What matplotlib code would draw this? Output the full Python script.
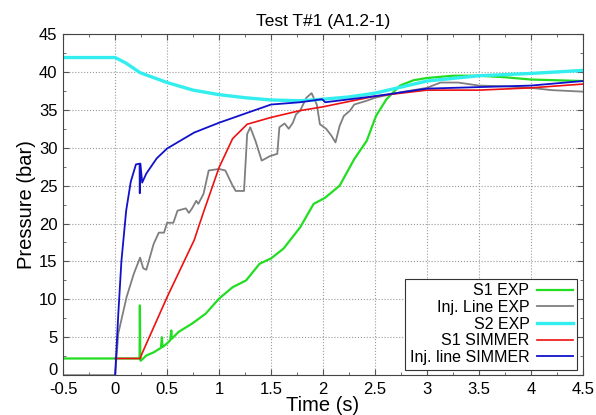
import matplotlib
matplotlib.use('Agg')
import matplotlib.pyplot as plt
from matplotlib.ticker import MultipleLocator

plt.rcParams['font.family'] = ['Liberation Sans', 'DejaVu Sans']

# S1 EXP (green)
s1_exp_t = [-0.5, 0.0, 0.235, 0.238, 0.242, 0.245, 0.27, 0.3, 0.37, 0.44, 0.45, 0.455,
            0.5, 0.53, 0.54, 0.545, 0.61, 0.74, 0.87, 1.0, 1.13, 1.26, 1.39, 1.5, 1.62,
            1.78, 1.91, 2.02, 2.16, 2.3, 2.42, 2.51, 2.61, 2.74, 2.87, 3.0, 3.25, 3.5,
            3.75, 4.0, 4.25, 4.5]
s1_exp_p = [2.2, 2.2, 2.2, 9.2, 2.2, 1.9, 2.2, 2.6, 3.0, 3.6, 5.0, 3.7,
            4.2, 4.6, 5.9, 4.8, 5.7, 6.8, 8.1, 10.1, 11.6, 12.5, 14.7, 15.4, 16.7,
            19.5, 22.6, 23.4, 25.0, 28.5, 30.9, 34.2, 36.4, 38.2, 38.9, 39.2, 39.5, 39.5,
            39.3, 39.0, 38.9, 38.8]

# Inj. Line EXP (grey)
inj_exp_t = [-0.5, 0.0, 0.03, 0.11, 0.18, 0.24, 0.27, 0.3, 0.37, 0.42, 0.47, 0.5, 0.56,
             0.6, 0.68, 0.71, 0.74, 0.78, 0.8, 0.85, 0.9, 1.0, 1.06, 1.13, 1.16, 1.24,
             1.27, 1.3, 1.35, 1.41, 1.49, 1.56, 1.58, 1.63, 1.67, 1.71, 1.74, 1.78, 1.84,
             1.89, 1.94, 1.97, 2.03, 2.08, 2.12, 2.16, 2.2, 2.26, 2.3, 2.42, 2.5, 2.74,
             3.0, 3.13, 3.3, 3.5, 3.75, 4.0, 4.2, 4.5]
inj_exp_p = [0.0, 0.0, 5.5, 10.3, 13.4, 15.5, 14.1, 13.9, 17.3, 18.8, 18.8, 20.1, 20.1,
             21.7, 22.0, 21.4, 22.0, 23.0, 22.6, 23.9, 27.0, 27.2, 27.0, 25.0, 24.3, 24.3,
             31.8, 32.7, 30.9, 28.3, 28.9, 29.2, 32.7, 33.2, 32.5, 33.3, 34.4, 34.9, 36.6,
             37.2, 35.7, 33.1, 32.5, 31.6, 30.7, 32.9, 34.2, 34.9, 35.7, 36.2, 36.6, 37.3,
             37.9, 38.6, 38.6, 38.2, 38.1, 37.9, 37.6, 37.4]

# S2 EXP (cyan)
s2_exp_t = [-0.5, 0.0, 0.1, 0.24, 0.5, 0.75, 1.0, 1.25, 1.5, 1.78, 2.0, 2.25, 2.5,
            2.75, 3.0, 3.5, 4.0, 4.5]
s2_exp_p = [41.9, 41.9, 41.2, 39.9, 38.6, 37.6, 37.0, 36.6, 36.3, 36.2, 36.4, 36.7, 37.2,
            38.0, 38.8, 39.5, 39.8, 40.2]

# S1 SIMMER (red)
s1_sim_t = [0.0, 0.24, 0.26, 0.5, 0.76, 0.85, 1.0, 1.13, 1.27, 1.5, 1.78, 2.0, 2.5,
            3.0, 3.5, 4.0, 4.5]
s1_sim_p = [2.2, 2.2, 2.9, 10.3, 17.8, 21.5, 27.4, 31.2, 33.1, 34.0, 34.9, 35.4, 36.8,
            37.6, 37.6, 37.9, 38.4]

# Inj. line SIMMER (blue)
inj_sim_t = [0.0, 0.03, 0.06, 0.106, 0.15, 0.2, 0.235, 0.237, 0.24, 0.243, 0.26, 0.3,
             0.4, 0.5, 0.76, 1.0, 1.27, 1.5, 1.78, 1.99, 2.0, 2.02, 2.5, 3.0, 3.5, 4.0, 4.5]
inj_sim_p = [0.0, 8.0, 15.0, 21.7, 25.5, 27.8, 27.9, 24.0, 27.9, 27.9, 25.4, 26.6,
             28.6, 29.9, 32.0, 33.3, 34.6, 35.7, 36.0, 36.4, 36.3, 36.0, 36.8, 37.8, 38.0,
             38.2, 38.8]

x_ticks = [-0.5, 0, 0.5, 1, 1.5, 2, 2.5, 3, 3.5, 4, 4.5]
x_labels = ['-0.5', '0', '0.5', '1', '1.5', '2', '2.5', '3', '3.5', '4', '4.5']
y_ticks = [0, 5, 10, 15, 20, 25, 30, 35, 40, 45]
y_labels = ['0', '5', '10', '15', '20', '25', '30', '35', '40', '45']

series = [
    ('S1 EXP', s1_exp_t, s1_exp_p, '#22dd22', 1.6),
    ('Inj. Line EXP', inj_exp_t, inj_exp_p, '#7f7f7f', 1.3),
    ('S2 EXP', s2_exp_t, s2_exp_p, '#33eeee', 2.4),
    ('S1 SIMMER', s1_sim_t, s1_sim_p, '#ee1111', 1.2),
    ('Inj. line SIMMER', inj_sim_t, inj_sim_p, '#1111cc', 1.3),
]

fig = plt.figure(figsize=(5.96, 4.15), dpi=100)
ax = fig.add_axes([0.106, 0.096, 0.872, 0.822])

for label, t, p, c, lw in series:
    ax.plot(t, p, color=c, lw=lw, label=label)

ax.set_xlim(-0.5, 4.5)
ax.set_ylim(0, 45)
ax.xaxis.set_minor_locator(MultipleLocator(0.25))
ax.yaxis.set_minor_locator(MultipleLocator(2.5))
ax.set_xticks(x_ticks, x_labels)
# the bottom "0" is drawn separately, lifted a little so it clears "-0.5"
ax.set_yticks(y_ticks, [''] + y_labels[1:])
ax.annotate(y_labels[0], xy=(0, y_ticks[0]), xycoords=('axes fraction', 'data'),
            xytext=(-4, 3), textcoords='offset points', ha='right', va='center',
            fontsize=12)
ax.tick_params(which='both', direction='in', top=True, right=True, labelsize=12,
               color='#555555')
ax.tick_params(which='major', length=4)
ax.tick_params(which='minor', length=2.5)
ax.tick_params(axis='x', pad=5)
ax.tick_params(axis='y', pad=4)
ax.grid(True, which='major', linestyle=':', color='#999999', lw=0.8)
for s in ax.spines.values():
    s.set_color('#444444')

ax.set_xlabel('Time (s)', fontsize=14.5, labelpad=-1)
ax.set_ylabel('Pressure (bar)', fontsize=14.5, labelpad=2)
ax.set_title('Test T#1 (A1.2-1)', fontsize=12.5, pad=6)

leg = ax.legend(loc='lower right', markerfirst=False, fontsize=11.5, fancybox=False,
                framealpha=1, edgecolor='#333333', borderpad=0.3, labelspacing=0.1,
                handlelength=2.2, handletextpad=0.5, borderaxespad=0.35)
for txt in leg.get_texts():
    txt.set_ha('right')
leg.get_frame().set_linewidth(0.8)

fig.savefig('out.png', dpi=100)
